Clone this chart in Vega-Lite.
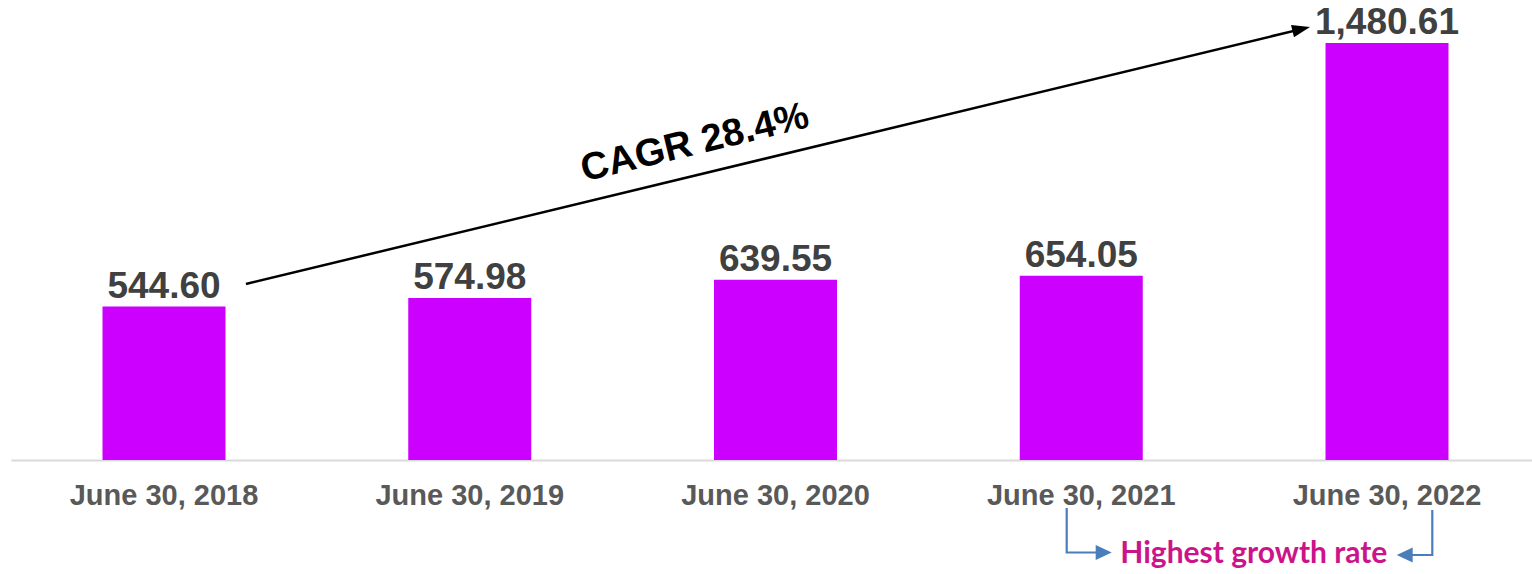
{
  "$schema": "https://vega.github.io/schema/vega-lite/v6.json",
  "width": 1521,
  "height": 460,
  "autosize": {"type": "none"},
  "padding": {"left": 11, "top": 0, "right": 0, "bottom": 114},
  "background": "white",
  "config": {"view": {"stroke": null}},
  "resolve": {"scale": {"x": "independent", "y": "independent"}},
  "layer": [
    {
      "data": {
        "values": [
          {"date": "June 30, 2018", "value": 544.60},
          {"date": "June 30, 2019", "value": 574.98},
          {"date": "June 30, 2020", "value": 639.55},
          {"date": "June 30, 2021", "value": 654.05},
          {"date": "June 30, 2022", "value": 1480.61}
        ]
      },
      "encoding": {
        "x": {
          "field": "date",
          "type": "nominal",
          "sort": null,
          "scale": {"paddingInner": 0.5977, "paddingOuter": 0.2862, "align": 0.5229},
          "axis": {
            "title": null,
            "labelAngle": 0,
            "ticks": false,
            "tickSize": 0,
            "labelPadding": 21,
            "labelLimit": 400,
            "labelFont": "Liberation Sans",
            "labelFontWeight": "bold",
            "labelFontSize": 29,
            "labelColor": "#595959",
            "domainColor": "#d9d9d9",
            "domainWidth": 2,
            "grid": false
          }
        },
        "y": {
          "field": "value",
          "type": "quantitative",
          "scale": {"domain": [0, 1633], "nice": false, "zero": false},
          "axis": null
        }
      },
      "layer": [
        {"mark": {"type": "bar", "color": "#CC00FF"}},
        {
          "mark": {
            "type": "text",
            "baseline": "alphabetic",
            "align": "center",
            "dy": -9,
            "font": "Liberation Sans",
            "fontWeight": "bold",
            "fontSize": 37,
            "color": "#404040"
          },
          "encoding": {"text": {"field": "value", "type": "quantitative", "format": ",.2f"}}
        }
      ]
    },
    {
      "encoding": {
        "x": {
          "field": "p",
          "type": "quantitative",
          "scale": {"domain": [-0.5004, 4.4742], "nice": false, "zero": false},
          "axis": null
        },
        "y": {
          "field": "v",
          "type": "quantitative",
          "scale": {"domain": [0, 1633], "nice": false, "zero": false},
          "axis": null
        }
      },
      "layer": [
        {
          "data": {"values": [{"p": 0.268, "v": 624.8}, {"p": 3.7195, "v": 1529.7}]},
          "mark": {"type": "line", "color": "black", "strokeWidth": 2.5}
        },
        {
          "data": {"values": [{"p": 3.7195, "v": 1529.7}]},
          "mark": {"type": "point", "shape": "M1,0L-1,-0.7L-1,0.7Z", "size": 324, "filled": true, "opacity": 1, "color": "black", "angle": 346.42}
        },
        {
          "data": {"values": [{"p": 1.745, "v": 1085.6, "t": "CAGR 28.4%"}]},
          "mark": {"type": "text", "angle": 346.42, "align": "center", "baseline": "alphabetic", "font": "Liberation Sans", "fontWeight": "bold", "fontSize": 38.5, "color": "black"},
          "encoding": {"text": {"field": "t"}}
        },
        {
          "data": {
            "values": [
              {"grp": "L", "o": 1, "p": 2.9524, "v": -170.4},
              {"grp": "L", "o": 2, "p": 2.9524, "v": -328.4},
              {"grp": "L", "o": 3, "p": 3.061, "v": -328.4},
              {"grp": "R", "o": 1, "p": 4.1481, "v": -177.5},
              {"grp": "R", "o": 2, "p": 4.1481, "v": -337.3},
              {"grp": "R", "o": 3, "p": 4.0687, "v": -337.3}
            ]
          },
          "mark": {"type": "line", "color": "#4A7EBB", "strokeWidth": 2.2},
          "encoding": {
            "detail": {"field": "grp"},
            "order": {"field": "o", "type": "quantitative"}
          }
        },
        {
          "data": {"values": [{"p": 3.0734, "v": -328.4}]},
          "mark": {"type": "point", "shape": "M1,0L-1,-0.94L-1,0.94Z", "size": 256, "filled": true, "opacity": 1, "color": "#4A7EBB"}
        },
        {
          "data": {"values": [{"p": 4.0579, "v": -337.3}]},
          "mark": {"type": "point", "shape": "M-1,0L1,-0.94L1,0.94Z", "size": 256, "filled": true, "opacity": 1, "color": "#4A7EBB"}
        },
        {
          "data": {"values": [{"p": 3.5644, "v": -366.7, "t": "Highest growth rate"}]},
          "mark": {"type": "text", "align": "center", "baseline": "alphabetic", "font": "Lato", "fontWeight": "bold", "fontSize": 30, "color": "#CC148A"},
          "encoding": {"text": {"field": "t"}}
        }
      ]
    }
  ]
}
